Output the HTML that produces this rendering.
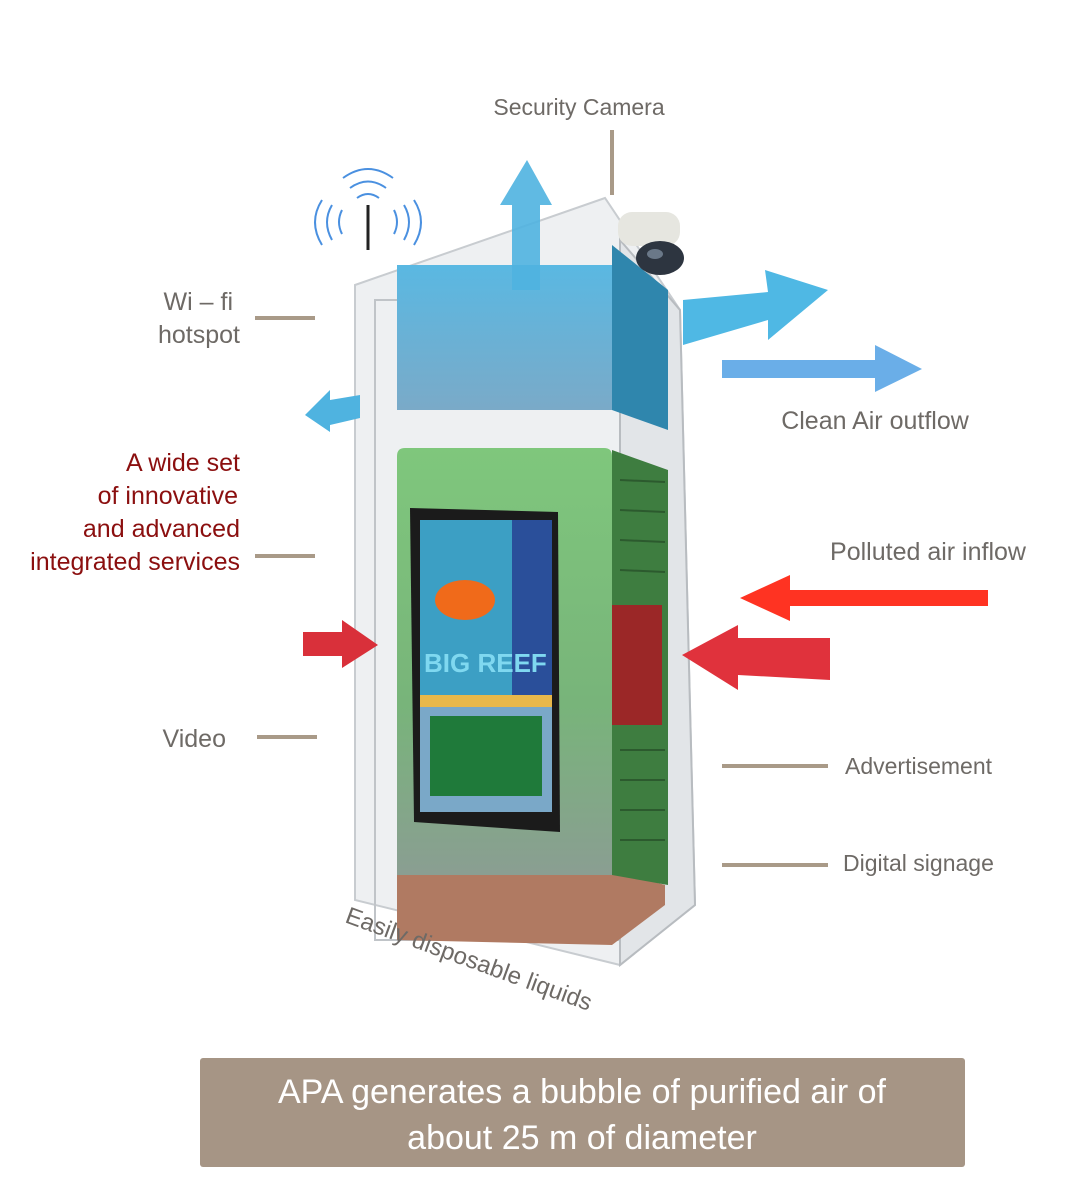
<!DOCTYPE html>
<html><head><meta charset="utf-8"><style>
body{margin:0;background:#fff;}
svg{display:block}
text{font-family:"Liberation Sans",sans-serif;}
</style></head><body>
<svg width="1074" height="1198" viewBox="0 0 1074 1198" xmlns="http://www.w3.org/2000/svg">
<defs>
<linearGradient id="gr" x1="0" y1="0" x2="0" y2="1"><stop offset="0" stop-color="#7fc77c"/><stop offset="0.6" stop-color="#78b47a"/><stop offset="1" stop-color="#8a9e92"/></linearGradient>
<linearGradient id="bl" x1="0" y1="0" x2="0" y2="1"><stop offset="0" stop-color="#5ab8e2"/><stop offset="1" stop-color="#7aaac8"/></linearGradient>
</defs>
<!-- labels -->
<text x="579" y="115" font-size="23" fill="#6e6a66" text-anchor="middle">Security Camera</text>
<line x1="612" y1="130" x2="612" y2="195" stroke="#a99a88" stroke-width="4"/>
<text x="233" y="310" font-size="25" fill="#6e6a66" text-anchor="end">Wi – fi</text>
<text x="240" y="343" font-size="25" fill="#6e6a66" text-anchor="end">hotspot</text>
<line x1="255" y1="318" x2="315" y2="318" stroke="#a99a88" stroke-width="4"/>
<g font-size="25" fill="#8b0f0f" text-anchor="end">
<text x="240" y="471">A wide set</text>
<text x="238" y="504">of innovative</text>
<text x="240" y="537">and advanced</text>
<text x="240" y="570">integrated services</text>
</g>
<line x1="255" y1="556" x2="315" y2="556" stroke="#a99a88" stroke-width="4"/>
<text x="226" y="747" font-size="25" fill="#6e6a66" text-anchor="end">Video</text>
<line x1="257" y1="737" x2="317" y2="737" stroke="#a99a88" stroke-width="4"/>
<text x="875" y="429" font-size="25" fill="#6e6a66" text-anchor="middle">Clean Air outflow</text>
<text x="928" y="560" font-size="25" fill="#6e6a66" text-anchor="middle">Polluted air inflow</text>
<text x="845" y="774" font-size="23" fill="#6e6a66">Advertisement</text>
<line x1="722" y1="766" x2="828" y2="766" stroke="#a99a88" stroke-width="4"/>
<text x="843" y="871" font-size="23" fill="#6e6a66">Digital signage</text>
<line x1="722" y1="865" x2="828" y2="865" stroke="#a99a88" stroke-width="4"/>
<!-- clean air arrow -->
<polygon points="722,360 875,360 875,345 922,369 875,392 875,378 722,378" fill="#6aaee8"/>
<!-- polluted arrow -->
<polygon points="988,590 790,590 790,575 740,598 790,621 790,606 988,606" fill="#ff3322"/>
<!-- wifi -->
<g fill="none" stroke="#4a90e0" stroke-width="2">
<path d="M343,178 Q368,160 393,178"/><path d="M350,188 Q368,175 386,188"/><path d="M357,198 Q368,190 379,198"/>
<path d="M322,200 Q308,222 322,245"/><path d="M332,205 Q322,222 332,240"/><path d="M342,210 Q336,222 342,234"/>
<path d="M414,200 Q428,222 414,245"/><path d="M404,205 Q414,222 404,240"/><path d="M394,210 Q400,222 394,234"/>
</g>
<line x1="368" y1="205" x2="368" y2="250" stroke="#222" stroke-width="3"/>
<!-- outer glass -->
<polygon points="355,285 605,198 680,310 695,905 620,965 355,900" fill="#eef0f2" stroke="#c8ccd0" stroke-width="2"/>
<rect x="375" y="300" width="245" height="640" fill="none" stroke="#c0c4c8" stroke-width="2"/>
<polygon points="620,240 680,310 695,905 620,965" fill="#e2e5e8" stroke="#b8bcc0" stroke-width="2"/>
<!-- blue box -->
<rect x="397" y="265" width="215" height="145" fill="url(#bl)"/>
<polygon points="612,245 668,290 668,430 612,410" fill="#2f86ad"/>
<!-- up arrow -->
<polygon points="512,290 512,205 500,205 527,160 552,205 540,205 540,290" fill="#4fb3e0" opacity="0.9"/>
<!-- right blue arrow -->
<polygon points="683,300 768,292 765,270 828,290 768,340 768,320 683,345" fill="#4fb8e4"/>
<!-- left blue arrow -->
<polygon points="360,395 330,400 330,390 305,415 330,432 330,425 360,418" fill="#4fb3e0"/>
<!-- base -->
<polygon points="397,870 612,870 665,885 665,905 612,945 397,940" fill="#b07a62"/>
<!-- green box -->
<path d="M405,448 H604 Q612,448 612,456 V875 H397 V456 Q397,448 405,448 Z" fill="url(#gr)"/>
<polygon points="612,450 668,470 668,885 612,875" fill="#3e7d40"/>
<g stroke="#2c5a2e" stroke-width="2">
<line x1="620" y1="480" x2="665" y2="482"/><line x1="620" y1="510" x2="665" y2="512"/><line x1="620" y1="540" x2="665" y2="542"/><line x1="620" y1="570" x2="665" y2="572"/><line x1="620" y1="750" x2="665" y2="750"/><line x1="620" y1="780" x2="665" y2="780"/><line x1="620" y1="810" x2="665" y2="810"/><line x1="620" y1="840" x2="665" y2="840"/>
</g>
<rect x="612" y="605" width="50" height="120" fill="#9b2727"/>
<!-- screen -->
<polygon points="410,508 558,512 560,832 414,822" fill="#1b1b1b"/>
<rect x="420" y="520" width="132" height="175" fill="#3c9fc4"/>
<rect x="512" y="520" width="40" height="175" fill="#2a4f9a"/>
<ellipse cx="465" cy="600" rx="30" ry="20" fill="#f06a1a"/>
<text x="424" y="672" font-size="26" fill="#7fd8f0" font-weight="bold">BIG REEF</text>
<rect x="420" y="695" width="132" height="12" fill="#e8b84a"/>
<rect x="420" y="707" width="132" height="105" fill="#7aa8c8"/>
<rect x="430" y="716" width="112" height="80" fill="#1f7a3a"/>
<!-- red arrows -->
<polygon points="303,632 342,632 342,620 378,645 342,668 342,656 303,656" fill="#d9303a"/>
<polygon points="830,638 738,638 738,625 682,655 738,690 738,675 830,680" fill="#e0323c"/>
<!-- camera -->
<rect x="618" y="212" width="62" height="34" rx="14" fill="#e6e6e0"/>
<ellipse cx="660" cy="258" rx="24" ry="17" fill="#2d3540"/>
<ellipse cx="655" cy="254" rx="8" ry="5" fill="#6a7888"/>
<text x="0" y="0" font-size="24" fill="#6e6a66" transform="translate(344,922) rotate(20)">Easily disposable liquids</text>
<!-- bottom box -->
<rect x="200" y="1058" width="765" height="109" rx="3" fill="#a69585"/>
<text x="582" y="1103" font-size="34" fill="#fff" text-anchor="middle">APA generates a bubble of purified air of</text>
<text x="582" y="1149" font-size="34" fill="#fff" text-anchor="middle">about 25 m of diameter</text>
</svg>
</body></html>
